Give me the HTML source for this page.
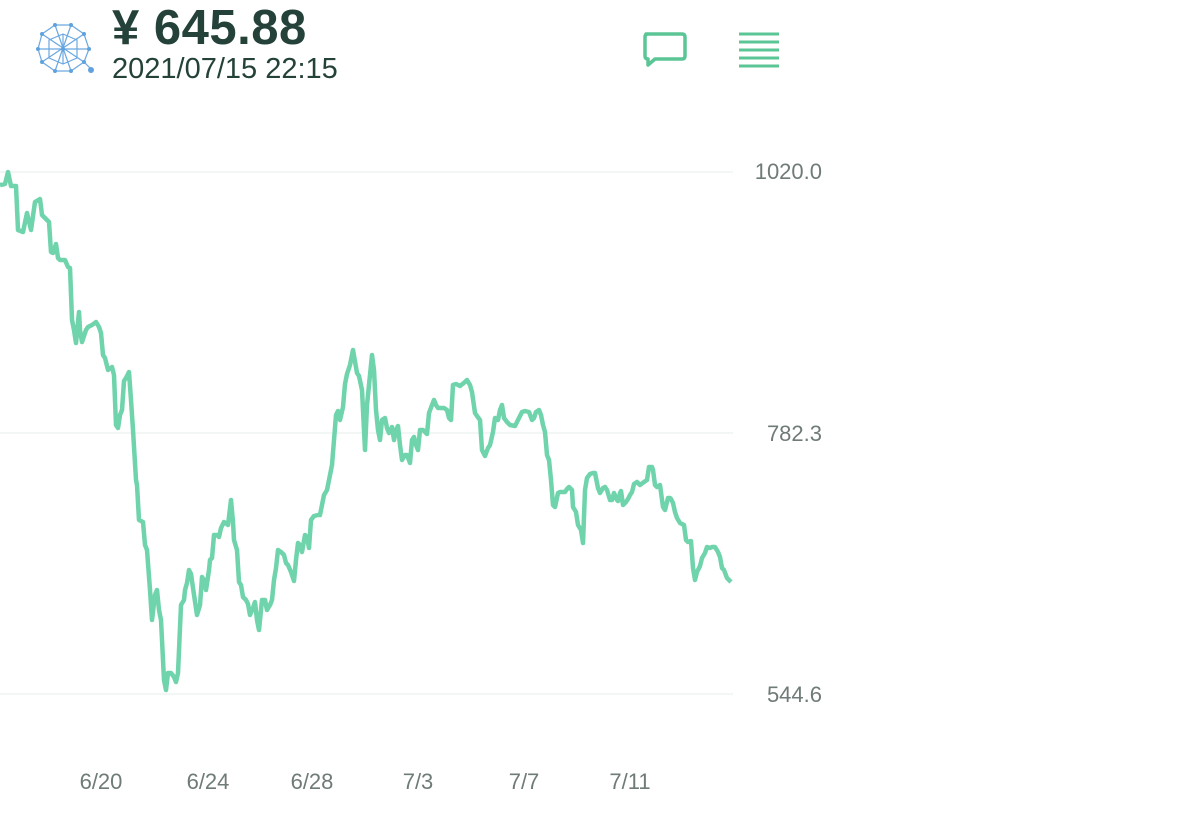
<!DOCTYPE html>
<html><head><meta charset="utf-8"><style>
body{margin:0;width:1200px;height:826px;background:#fff;overflow:hidden;font-family:"Liberation Sans",sans-serif;position:relative}
.t{position:absolute;color:#24423a;white-space:nowrap}
.ax{position:absolute;color:#6f7b79;font-size:22px;white-space:nowrap}
.y{right:378px;text-align:right}
.d{width:100px;text-align:center;top:769px}
</style></head><body>
<svg style="position:absolute;left:0;top:0" width="1200" height="826">
<g stroke="#6aa8e0" stroke-width="1.2" fill="none">
<polygon points="55,25 71,25 84,34 89,49 84,62 71,71 55,71 42,62 38,49 42,34"/>
<polygon points="63,34 77,40 77,58 63,64 49,58 49,40"/>
<line x1="38" y1="49" x2="89" y2="49"/><line x1="55" y1="25" x2="71" y2="71"/><line x1="71" y1="25" x2="55" y2="71"/>
<line x1="42" y1="34" x2="84" y2="62"/><line x1="84" y1="34" x2="42" y2="62"/><line x1="63" y1="34" x2="63" y2="64"/>
<line x1="84" y1="62" x2="91" y2="69"/>
</g>
<g fill="#5fa2de"><circle cx="55" cy="25" r="2"/><circle cx="71" cy="25" r="2"/><circle cx="84" cy="34" r="2"/><circle cx="89" cy="49" r="2"/><circle cx="84" cy="62" r="2"/><circle cx="71" cy="71" r="2"/><circle cx="55" cy="71" r="2"/><circle cx="42" cy="62" r="2"/><circle cx="38" cy="49" r="2"/><circle cx="42" cy="34" r="2"/><circle cx="63" cy="49" r="2"/><circle cx="91" cy="70" r="3"/></g>
<path d="M646,34 H682 Q685,34 685,37 V56 Q685,59 682,59 H655 L648,65 V59 Q645,59 645,56 V37 Q645,34 648,34 Z" fill="none" stroke="#5cc596" stroke-width="3.5" stroke-linejoin="round"/>
<g stroke="#5cc596" stroke-width="3"><line x1="739" y1="34" x2="779" y2="34"/><line x1="739" y1="42" x2="779" y2="42"/><line x1="739" y1="50" x2="779" y2="50"/><line x1="739" y1="58" x2="779" y2="58"/><line x1="739" y1="66" x2="779" y2="66"/></g>
<g stroke="#edf3f2" stroke-width="1.5"><line x1="0" y1="172" x2="733" y2="172"/><line x1="0" y1="433" x2="733" y2="433"/><line x1="0" y1="694" x2="733" y2="694"/></g>
<polyline fill="none" stroke="#6fd3ab" stroke-width="4.5" stroke-linejoin="round" points="0,185 5,184 8,172 11,186 16,186 18,230 23,232 27,213 31,230 35,202 40,199 42,215 45,218 49,222 51,252 53,253 56,244 58,258 60,260 65,260 68,267 70,268 72,320 74,330 76,343 79,312 80,330 82,342 86,330 88,327 92,325 96,322 99,327 101,333 103,355 105,358 108,370 112,367 114,375 116,425 118,428 120,415 122,410 124,381 126,378 129,372 131,400 133,430 136,480 137,485 139,520 141,521 143,522 145,545 147,550 150,590 152,620 155,595 157,590 159,610 161,620 164,680 166,690 168,673 171,673 174,677 176,682 178,673 181,605 184,600 185,590 187,583 189,570 191,574 193,588 197,615 200,605 202,577 204,580 206,590 209,570 210,560 212,558 214,535 217,535 219,537 221,528 224,522 228,525 231,500 233,522 234,540 237,550 239,582 241,585 243,597 246,600 248,604 250,615 253,608 255,602 257,620 259,630 262,600 265,600 267,610 270,605 272,600 274,580 276,568 278,550 281,552 284,555 286,563 288,565 291,572 294,581 296,560 298,543 300,545 302,552 305,535 307,537 309,548 311,520 314,516 318,515 320,515 322,505 324,495 327,490 330,475 332,465 334,440 336,415 338,411 340,420 343,407 345,384 347,374 350,365 353,350 357,373 359,376 362,390 365,450 367,405 369,385 372,355 374,370 376,410 378,430 380,440 382,420 385,418 387,428 389,433 392,427 394,440 396,430 398,426 400,445 402,460 405,455 407,455 410,463 412,440 414,437 416,445 418,450 420,430 423,430 427,434 429,413 432,405 434,400 436,405 438,408 444,408 447,410 449,418 451,420 453,385 456,384 460,386 465,382 467,380 470,385 472,392 475,413 477,416 480,420 482,450 485,456 488,448 490,445 493,432 495,418 498,420 500,410 502,405 504,418 507,422 510,425 515,426 519,418 522,412 525,411 529,412 532,420 534,418 536,412 539,410 541,415 543,425 545,432 547,455 549,460 551,480 553,505 555,507 558,493 560,492 565,492 567,489 569,487 572,490 573,507 576,512 578,525 581,530 583,543 585,490 587,478 590,474 593,473 595,473 598,488 600,493 603,488 605,487 607,490 610,500 612,500 614,493 617,500 618,501 620,493 621,491 623,505 626,502 628,499 630,495 632,492 634,484 637,482 640,485 644,482 647,480 649,467 652,467 653,470 655,485 657,487 660,485 663,507 665,510 668,498 670,498 671,499 673,503 675,512 677,518 680,523 684,525 686,540 688,542 691,541 693,568 695,580 697,572 700,566 702,558 705,553 707,547 710,548 712,547 715,547 718,552 720,557 722,568 724,570 727,578 731,582"/>
</svg>
<div class="t" style="left:112px;top:0px;font-size:49px;font-weight:bold;letter-spacing:0.5px">¥ 645.88</div>
<div class="t" style="left:112px;top:53px;font-size:29px">2021/07/15 22:15</div>
<div class="ax y" style="top:159px">1020.0</div>
<div class="ax y" style="top:421px">782.3</div>
<div class="ax y" style="top:682px">544.6</div>
<div class="ax d" style="left:51px">6/20</div>
<div class="ax d" style="left:158px">6/24</div>
<div class="ax d" style="left:262px">6/28</div>
<div class="ax d" style="left:368px">7/3</div>
<div class="ax d" style="left:474px">7/7</div>
<div class="ax d" style="left:580px">7/11</div>
</body></html>
